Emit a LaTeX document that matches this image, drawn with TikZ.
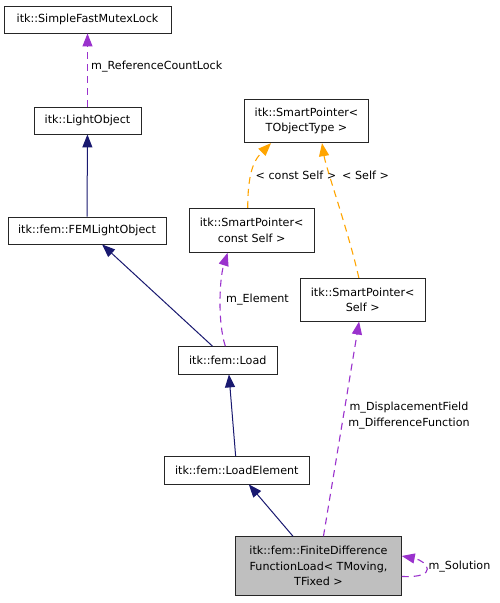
\documentclass[tikz,border=0pt]{standalone}
\usepackage{fontspec}
\setmainfont{DejaVu Sans}
\usetikzlibrary{arrows.meta}
\definecolor{inhblue}{HTML}{191970}
\definecolor{usepurple}{HTML}{9A32CD}
\definecolor{tplorange}{HTML}{FFA500}
\definecolor{boxgray}{HTML}{BFBFBF}

\begin{document}
\begin{tikzpicture}[x=1pt, y=-1pt, font=\fontsize{11.15}{15.5}\selectfont,
  cls/.style={draw=black!85, fill=white, line width=.9pt, inner sep=0pt, align=center},
  inh/.style={draw=inhblue, line width=1pt, -{Triangle[length=13pt,width=10pt]}},
  member/.style={draw=usepurple, line width=1.1pt, dash pattern=on 7pt off 5pt,
    -{Triangle[length=13pt,width=10pt,fill=usepurple]}},
  tmpl/.style={draw=tplorange, line width=1.1pt, dash pattern=on 7pt off 5pt,
    -{Triangle[length=13pt,width=10pt,fill=tplorange]}},
  lbl/.style={inner sep=0pt, align=center, text=black}]

\fill[white] (0,0) rectangle (500,603);
\useasboundingbox (0,0) rectangle (500,603);

% classes
\node[cls, minimum width=167pt, minimum height=27pt] (sfm) at (87.5,19.5) {itk::SimpleFastMutexLock};
\node[cls, minimum width=107pt, minimum height=27pt] (lo) at (87.5,120.5) {itk::LightObject};
\node[cls, minimum width=158pt, minimum height=27pt] (femlo) at (87,230.5) {itk::fem::FEMLightObject};
\node[cls, minimum width=124.4pt, minimum height=43.4pt] (spT) at (306.5,121) {itk::SmartPointer<\\TObjectType >};
\node[cls, minimum width=124.7pt, minimum height=44pt] (spCS) at (251.7,230.3) {itk::SmartPointer<\\const Self >};
\node[cls, minimum width=124.7pt, minimum height=42.7pt] (spS) at (362.7,299.7) {itk::SmartPointer<\\Self >};
\node[cls, minimum width=99pt, minimum height=27.3pt] (load) at (227.8,360.3) {itk::fem::Load};
\node[cls, minimum width=145pt, minimum height=27.3pt] (loadel) at (236.8,470.3) {itk::fem::LoadElement};
\node[cls, fill=boxgray, minimum width=165.6pt, minimum height=59pt] (fdfl) at (318.5,566.2) {itk::fem::FiniteDifference\\FunctionLoad< TMoving,\\TFixed >};

% edge labels
\node[lbl, anchor=west] (lblRefLock) at (91,67) {m\_ReferenceCountLock};
\node[lbl, anchor=west] (lblElem) at (226,299.3) {m\_Element};
\node[lbl, anchor=west] (lblConstSelf) at (255.5,175.7) {< const Self >};
\node[lbl, anchor=west] (lblSelf) at (342,175.7) {< Self >};
\node[lbl] (lblDisp) at (409,415.7) {m\_DisplacementField\\[1pt]m\_DifferenceFunction};
\node[lbl, anchor=west] (lblSol) at (428.3,566.7) {m\_Solution};

% inheritance
\draw[inh] (femlo) -- (lo);
\draw[inh] (load) -- (femlo);
\draw[inh] (loadel) -- (load);
\draw[inh] (fdfl) -- (loadel);

% members
\draw[member] (lo) -- (sfm);
\draw[member] (load.100) .. controls +(-8,-25) and +(-8,25) .. (spCS.223);
\draw[member] (fdfl) -- (spS);
\draw[member] (fdfl.-7) .. controls +(38,2) and +(26,5) .. (fdfl.7);

% template instances
\draw[tmpl] (spCS.100) .. controls +(0,-40) and +(-15,15) .. (spT.212);
\draw[tmpl] (spS.100) .. controls +(-10,-45) and +(4,25) .. (spT.-55);

\end{tikzpicture}
\end{document}
